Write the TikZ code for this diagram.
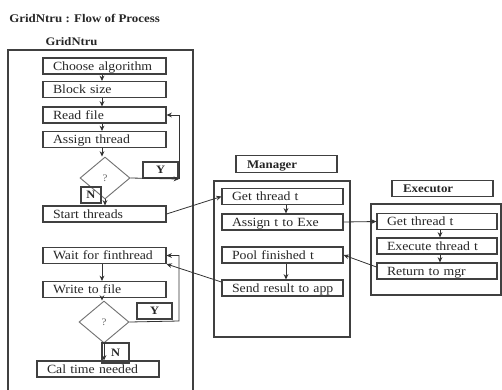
\documentclass[tikz,border=0pt]{standalone}
\usepackage{fontspec}
\setmainfont[FakeStretch=1.1]{Liberation Serif}
\usetikzlibrary{arrows.meta,shapes.geometric}
\begin{document}
\begin{tikzpicture}[x=0.75pt,y=-0.75pt,
  every node/.style={text=black!85},
  pbox/.style={draw=black!75, line width=0.8pt, rectangle, inner xsep=7.5pt, inner ysep=0pt,
    text width=#1, align=left, text height=9.2pt, text depth=2.8pt,
    font=\fontsize{9.4}{10}\selectfont},
  pbox/.default=77.25pt,
  lbl/.style={draw=black!75, line width=0.8pt, rectangle, inner xsep=8.25pt, inner ysep=0pt,
    text width=59.25pt, align=left, text height=9.2pt, text depth=3.2pt,
    font=\fontsize{8.8}{10}\selectfont\bfseries},
  yn/.style={draw=black!75, line width=0.8pt, rectangle, inner sep=0pt,
    minimum width=#1, minimum height=12pt, font=\fontsize{8.5}{10}\selectfont\bfseries},
  dec/.style={draw=black!55, line width=0.7pt, diamond, inner sep=0pt,
    minimum width=37.5pt, minimum height=31.5pt, font=\fontsize{7.5}{9}\selectfont, text=black!60},
  outer/.style={draw=black!75, line width=0.8pt},
  arr/.style={draw=black!80, line width=0.6pt, -{Stealth[length=4pt,width=3.6pt]}},
  ln/.style={draw=black!80, line width=0.6pt}]
\useasboundingbox (0,0) rectangle (502,389);

% titles
\node[anchor=base west, inner sep=0pt, font=\fontsize{8.8}{10}\selectfont\bfseries] (title) at (9,22) {GridNtru : Flow of Process};
\node[anchor=base, inner sep=0pt, font=\fontsize{8.6}{10}\selectfont\bfseries] (gtitle) at (71.5,45) {GridNtru};

% GridNtru container
\draw[outer] (8,395) -- (8,50) -- (193,50) -- (193,395);

\node[pbox] (choose) at (104.5,66) {Choose algorithm};
\node[pbox] (block)  at (104.5,89.5) {Block size};
\node[pbox] (read)   at (104.5,115) {Read file};
\node[pbox] (assign) at (104.5,139.5) {Assign thread};
\node[dec]  (d1)     at (105,178) {?};
\node[yn=26.25pt] (y1) at (160.5,170) {Y};
\node[yn=15pt] (n1) at (91,195) {N};
\node[pbox] (start)  at (104.5,214) {Start threads};

\node[pbox] (wait)   at (104.5,255.5) {Wait for finthread};
\node[pbox] (write)  at (104.5,289.5) {Write to file};
\node[dec]  (d2)     at (104,322) {?};
\node[yn=26.25pt] (y2) at (154.5,311) {Y};
\node[yn=20.25pt, minimum height=15pt] (n2) at (115.5,353) {N};
\node[pbox=76.5pt] (cal) at (98,369) {Cal time needed};

\coordinate (ax) at (102,0);
\coordinate (c1) at (179,179);
\coordinate (c2) at (179,321);

\draw[arr] (choose.south -| ax) -- (block.north -| ax);
\draw[arr] (block.south -| ax) -- (read.north -| ax);
\draw[arr] (read.south -| ax) -- (assign.north -| ax);
\draw[arr] (assign.south -| ax) -- (ax |- d1.north);
\draw[arr] (d1.south) -- (d1.south |- start.north);
\draw[arr] (d1.east) -- (c1);
\draw[arr] (c1) |- (read.east);

\draw[arr] (wait.south -| ax) -- (write.north -| ax);
\draw[arr] (write.south -| ax) -- (ax |- d2.north);
\draw[arr] (d2.south) -- (d2.south |- cal.north);
\draw[arr] (d2.east) -- (c2) |- (wait.east);

% Manager
\node[lbl] (mlbl) at (286.5,164) {Manager};
\draw[outer] (214,181) rectangle (350,337);
\node[pbox=75.75pt] (mget)    at (282.5,196.5) {Get thread t};
\node[pbox=75.75pt] (massign) at (282.5,222) {Assign t to Exe};
\node[pbox=75.75pt] (mpool)   at (282.5,255) {Pool finished t};
\node[pbox=75.75pt] (msend)   at (282.5,288) {\mbox{Send result to app}};
\coordinate (mx) at (286,0);
\draw[arr] (mget.south -| mx) -- (massign.north -| mx);
\draw[arr] (mpool.south -| mx) -- (msend.north -| mx);

% Executor
\node[lbl] (elbl) at (442.5,188.5) {Executor};
\draw[outer] (371,204) rectangle (501,295);
\node[pbox=75pt] (eget)  at (437,221.5) {Get thread t};
\node[pbox=75pt] (eexec) at (437,246) {Execute thread t};
\node[pbox=75pt] (eret)  at (437,271) {Return to mgr};
\coordinate (ex) at (440,0);
\draw[arr] (eget.south -| ex) -- (eexec.north -| ex);
\draw[arr] (eexec.south -| ex) -- (eret.north -| ex);

% cross connections
\draw[arr] (start.east) -- (mget.west);
\draw[arr] (massign.east) -- (eget.west);
\draw[arr] ([yshift=3pt]eret.west) -- (mpool.east);
\draw[arr] ([yshift=4.5pt]msend.west) -- (wait.south east);
\end{tikzpicture}
\end{document}
